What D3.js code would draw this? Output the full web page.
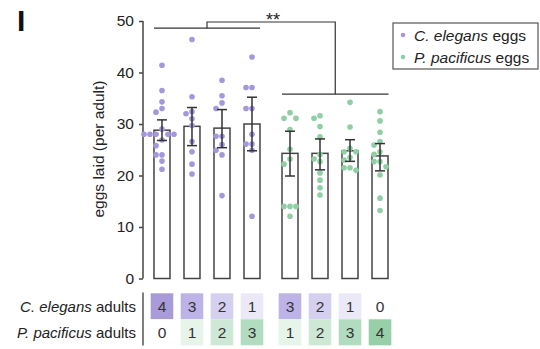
<!DOCTYPE html>
<html><head><meta charset="utf-8">
<script src="https://cdn.jsdelivr.net/npm/d3@7"></script>
<style>body{margin:0;background:#fff}svg{display:block}</style>
</head><body><svg id="c" width="540" height="349"></svg>
<script>
const conditions = ["4:0","3:1","2:2","1:3","3:1b","2:2b","1:3b","0:4"];
const celegansAdults = [4,3,2,1,3,2,1,0];
const pacificusAdults = [0,1,2,3,1,2,3,4];
const eggSpecies = ["C","C","C","C","P","P","P","P"];
const means = [28.8,29.55,29.2,30.0,24.3,24.3,24.8,23.8];
const errLow = [26.8,25.8,25.4,24.8,19.9,21.1,22.75,20.9];
const errHigh = [30.8,33.2,32.8,35.2,28.6,27.1,26.95,26.2];
const points = [
 [41.4,36.5,34.3,33.0,32.3,29.0,28,28,28,28,28,26.9,25.8,24,24,22.8,21.2],
 [46.4,35.3,32.4,32.0,31.0,29.7,26.6,24.6,22.2,20.3],
 [38.5,35.5,34.1,33.0,27.6,27.6,26.0,24.9,24.0,16.1],
 [43.0,37.1,37.1,33.0,33.0,28.0,26.1,26.1,24.9,12.1],
 [32.2,31.1,31.1,28.9,25.1,23.2,22.2,14.0,14.0,14.0,12.1],
 [31.6,31.1,29.5,27.5,24.1,23.2,22.7,20.5,19.1,17.6,16.2],
 [34.2,29.4,25.3,24.6,24.6,23.5,23.0,21.5,21.0,21.5],
 [32.4,30.6,28.4,26.6,25.9,24.6,24.1,22.7,22.7,21.7,20.1,15.6,13.2]
];
const yTicks = [0,10,20,30,40,50];
const legendLabels = [["C. elegans"," eggs"],["P. pacificus"," eggs"]];
const rowLabels = [["C. elegans"," adults"],["P. pacificus"," adults"]];
const sigLabel = "**";

const purple = "#a597dc", green = "#8fcfa3";
const purpleScale = ["#ffffff","#ebe8f7","#d5cff0","#bdb3e6","#a99bd9"];
const greenScale = ["#ffffff","#e6f4ea","#cde9d6","#b1dcbf","#96cfa8"];
const FONT = "'Liberation Sans', Arial, sans-serif";

const svg = d3.select("#c");
const y = d3.scaleLinear().domain([0,50]).range([278.5,21]);
const band = d3.scaleBand().domain(conditions).range([147,387]).paddingInner(0.467).paddingOuter(0.233);
const groupOffset = (i)=> i>=4 ? 8 : 0;
const xc = (i)=> band(conditions[i]) + band.bandwidth()/2 + groupOffset(i);

// y axis
const yAxis = d3.axisLeft(y).tickValues(yTicks).tickSize(4).tickPadding(5);
const ax = svg.append("g").attr("transform","translate(143,0)").call(yAxis);
ax.select(".domain").attr("stroke","#444").attr("stroke-width",1.5).attr("d","M0,"+y(50)+"V"+y(0));
ax.selectAll(".tick line").attr("stroke","#444").attr("stroke-width",1.5);
ax.selectAll(".tick text").attr("font-family",FONT).attr("font-size",15.5).attr("fill","#222");

svg.append("text").attr("transform","translate(104,149) rotate(-90)")
  .attr("text-anchor","middle").attr("font-family",FONT).attr("font-size",15.5).attr("fill","#222")
  .text("eggs laid (per adult)");

svg.append("text").attr("x",17).attr("y",31).attr("font-family",FONT).attr("font-weight","bold")
  .attr("font-size",30).attr("fill","#111").text("I");

// bars
const bw = band.bandwidth();
svg.append("g").selectAll("rect").data(means).join("rect")
  .attr("x",(d,i)=>xc(i)-bw/2).attr("y",d=>y(d)).attr("width",bw).attr("height",d=>y(0)-y(d))
  .attr("fill","#fff").attr("stroke","#444").attr("stroke-width",1.5);

// dots (swarm layout)
const r = 2.8, minD = 6;
points.forEach((vals,i)=>{
  const placed = [];
  const sorted = vals.slice().sort((a,b)=>b-a);
  sorted.forEach(v=>{
    const py = y(v);
    let off=0;
    const cands=[0];
    for(let j=1;j<8;j++){cands.push(-j*minD, j*minD);}
    for(const c of cands){
      if(placed.every(p=>Math.hypot(p.x-c,p.y-py)>=minD-0.01)){off=c;break;}
    }
    placed.push({x:off,y:py,v});
  });
  svg.append("g").selectAll("circle").data(placed).join("circle")
    .attr("cx",d=>xc(i)+d.x).attr("cy",d=>d.y).attr("r",r)
    .attr("fill", eggSpecies[i]==="C"?purple:green);
});

// error bars
const eb = svg.append("g").attr("stroke","#333").attr("stroke-width",1.5);
means.forEach((m,i)=>{
  const cx=xc(i);
  eb.append("line").attr("x1",cx).attr("x2",cx).attr("y1",y(errLow[i])).attr("y2",y(errHigh[i]));
  eb.append("line").attr("x1",cx-5).attr("x2",cx+5).attr("y1",y(errLow[i])).attr("y2",y(errLow[i]));
  eb.append("line").attr("x1",cx-5).attr("x2",cx+5).attr("y1",y(errHigh[i])).attr("y2",y(errHigh[i]));
});

// significance bracket
const br = svg.append("g").attr("stroke","#333").attr("stroke-width",1.2).attr("fill","none");
const g1L = xc(0)-bw/2, g1R = xc(3)+8, g2L = xc(4)-bw/2, g2R = xc(7)+bw/2+0.5;
const g1M = (g1L+g1R)/2, g2M = (g2L+g2R)/2;
const yTop = y(50)+1, yG1 = y(48.6), yG2 = y(35.8);
br.append("line").attr("x1",g1L).attr("x2",g1R).attr("y1",yG1).attr("y2",yG1);
br.append("line").attr("x1",g2L).attr("x2",g2R).attr("y1",yG2).attr("y2",yG2);
br.append("path").attr("d",`M${g1M},${yG1}V${yTop}H${g2M}V${yG2}`);
svg.append("text").attr("x",(g1M+g2M)/2+2).attr("y",yTop+4).attr("text-anchor","middle")
  .attr("font-family",FONT).attr("font-size",18).attr("fill","#222").text(sigLabel);

// legend
const lg = svg.append("g");
lg.append("rect").attr("x",393).attr("y",23).attr("width",145).attr("height",46)
  .attr("fill","#fff").attr("stroke","#555").attr("stroke-width",1.2);
legendLabels.forEach((lab,k)=>{
  const yy = 35 + k*22;
  lg.append("circle").attr("cx",403).attr("cy",yy).attr("r",2.3).attr("fill",k===0?purple:green);
  const t = lg.append("text").attr("x",414).attr("y",yy+5.5).attr("font-family",FONT).attr("font-size",15.5).attr("fill","#222");
  t.append("tspan").attr("font-style","italic").text(lab[0]);
  t.append("tspan").text(lab[1]);
});

// bottom table
const cellW = 22.6, cellH = 26, row1 = 293.3, row2 = 319.3;
svg.append("line").attr("x1",143).attr("x2",143).attr("y1",292.5).attr("y2",345.5)
  .attr("stroke","#555").attr("stroke-width",1.5);
rowLabels.forEach((lab,k)=>{
  const t = svg.append("text").attr("x",136).attr("y",(k===0?row1:row2)+cellH/2+5.3)
    .attr("text-anchor","end").attr("font-family",FONT).attr("font-size",15).attr("fill","#222");
  t.append("tspan").attr("font-style","italic").text(lab[0]);
  t.append("tspan").text(lab[1]);
});
const tbl = svg.append("g");
[[celegansAdults,purpleScale,row1],[pacificusAdults,greenScale,row2]].forEach(([vals,sc,ry])=>{
  vals.forEach((v,i)=>{
    tbl.append("rect").attr("x",xc(i)-cellW/2).attr("y",ry).attr("width",cellW).attr("height",cellH)
      .attr("fill",sc[v]);
    tbl.append("text").attr("x",xc(i)).attr("y",ry+cellH/2+5.5).attr("text-anchor","middle")
      .attr("font-family",FONT).attr("font-size",15.5).attr("fill","#333").text(v);
  });
});
</script></body></html>
